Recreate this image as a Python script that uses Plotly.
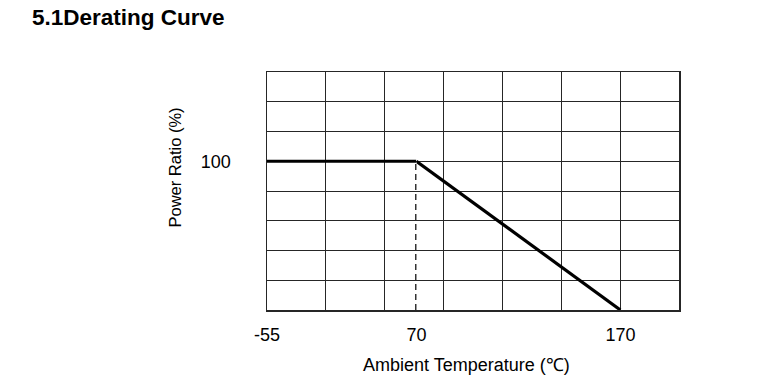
import plotly.graph_objects as go

# ---- data ----
temps = [-55, 70, 170]          # ambient temperature (°C)
power_ratio = [100, 100, 0]     # power ratio (%)
x_tick_labels = ["-55", "70", "170"]
y_tick_values = [100]
y_tick_labels = ["100"]
title_text = "5.1Derating Curve"
x_title = "Ambient Temperature (℃)"
y_title = "Power Ratio (%)"

# ---- layout geometry (page body margin removed via post_script) ----
W, H = 775, 379
px_l, px_r, px_t, px_b = 267, 679, 72, 310      # plot box on screen
L, T = px_l, px_t
R, B = W - px_r, H - px_b
plot_w = px_r - px_l
plot_h = px_b - px_t
split = 149.4 / plot_w          # broken x-axis: left segment (-55..70), right segment (70..)
right_max = 70 + (plot_w * (1 - split)) / 2.04

grid_col = "#262626"
font = "Liberation Sans, Arial, sans-serif"

fig = go.Figure()

# grid helper trace (invisible) on the full-width grid axis
fig.add_trace(go.Scatter(x=[0, 7], y=[0, 160], xaxis="x", yaxis="y",
                         mode="markers", marker=dict(opacity=0), hoverinfo="skip",
                         showlegend=False))

# flat segment (left axis)
fig.add_trace(go.Scatter(x=temps[:2], y=power_ratio[:2], xaxis="x2", yaxis="y",
                         mode="lines", line=dict(color="black", width=3.2),
                         showlegend=False, cliponaxis=False))
# dashed marker at 70 °C
fig.add_trace(go.Scatter(x=[temps[1], temps[1]], y=[0, power_ratio[1]], xaxis="x2", yaxis="y",
                         mode="lines", line=dict(color="black", width=2.4, dash="6px,4px"),
                         showlegend=False, cliponaxis=False))
# derating slope (right axis)
fig.add_trace(go.Scatter(x=temps[1:], y=power_ratio[1:], xaxis="x3", yaxis="y",
                         mode="lines", line=dict(color="black", width=3.2),
                         showlegend=False, cliponaxis=False))

tick_font = dict(family=font, size=18, color="black")

fig.update_layout(
    width=W, height=H,
    margin=dict(l=L, r=R, t=T, b=B),
    paper_bgcolor="white", plot_bgcolor="rgba(0,0,0,0)",
    hovermode=False,
    annotations=[
        dict(text="<b>" + title_text + "</b>", xref="paper", yref="paper",
             x=0, xshift=30 - px_l, xanchor="left",
             y=1, yshift=px_t - 17, yanchor="middle", showarrow=False,
             font=dict(family=font, size=22.5, color="black")),
        dict(text=x_title, xref="paper", yref="paper", x=(466 - px_l) / plot_w, y=0,
             yshift=-(365 - px_b), xanchor="center", yanchor="middle",
             showarrow=False, font=dict(family=font, size=18, color="black")),
        dict(text=y_title, xref="paper", yref="paper", x=0, xshift=174 - px_l,
             y=(px_b - 167.5) / plot_h, xanchor="center", yanchor="middle",
             textangle=-90, showarrow=False,
             font=dict(family=font, size=16.5, color="black")),
    ],
    xaxis=dict(domain=[0, 1], range=[0, 7], anchor="y",
               dtick=1, tick0=0, showticklabels=False, ticks="",
               showgrid=True, gridcolor=grid_col, gridwidth=1,
               showline=True, linecolor=grid_col, linewidth=1.5, mirror=True,
               zeroline=False),
    xaxis2=dict(domain=[0, split], range=[-55, 70], anchor="y",
                tickvals=temps[:1], ticktext=x_tick_labels[:1], tickfont=tick_font,
                showgrid=False, zeroline=False, showline=False, ticks="",
                ticklabelstandoff=12),
    xaxis3=dict(domain=[split, 1], range=[70, right_max], anchor="y",
                tickvals=temps[1:], ticktext=x_tick_labels[1:], tickfont=tick_font,
                showgrid=False, zeroline=False, showline=False, ticks="",
                ticklabelstandoff=12),
    yaxis=dict(domain=[0, 1], range=[0, 160], anchor="x",
               tickvals=y_tick_values, ticktext=y_tick_labels, tickfont=tick_font,
               showgrid=True, gridcolor=grid_col, gridwidth=1,
               minor=dict(dtick=20, tick0=0, showgrid=True, gridcolor=grid_col, gridwidth=1),
               showline=True, linecolor=grid_col, linewidth=1.5, mirror=True,
               zeroline=False, ticks="", ticklabelstandoff=31),
)

fig.write_html("out.html",
               config={"displayModeBar": False, "staticPlot": True},
               post_script="document.body.style.margin='0';document.body.style.overflow='hidden';")
